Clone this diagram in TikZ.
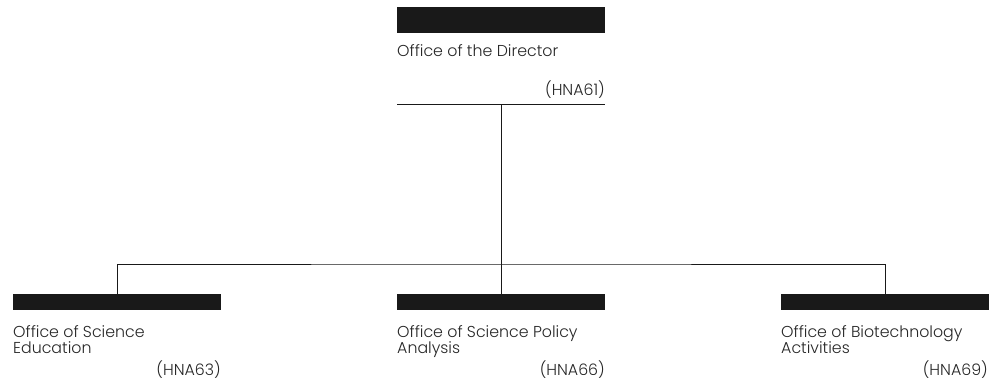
\documentclass[tikz,border=0pt]{standalone}
\usepackage{fontspec}
\setmainfont{Poppins}[UprightFont=* Light]
\usetikzlibrary{positioning}
\newcommand{\officefont}{\fontsize{15.8}{16}\selectfont\lineskiplimit=-10pt\relax}

\begin{document}
\begin{tikzpicture}[x=1pt, y=-1pt,
				topbar/.style={rectangle, fill=black!90, minimum width=208pt, minimum height=26pt, inner sep=0pt},
				bar/.style={rectangle, fill=black!90, minimum width=208pt, minimum height=16pt, inner sep=0pt},
				title/.style={rectangle, inner sep=0pt, align=left, font=\officefont, text=black!85},
				code/.style={rectangle, inner sep=0pt, font=\officefont, text=black!85},
				line/.style={draw=black!90, line width=1pt}
			]
			\useasboundingbox (0,0) rectangle (995,383);
			% top office
			\node[topbar] (director) at (501,20) {};
			\node[title, anchor=base west] (directorname) at (397,56) {Office of the Director};
			\node[code, anchor=base east] (directorcode) at (605,95) {(HNA61)};
			\coordinate (ruleleft) at (397,104);
			\coordinate (ruleright) at (605,104);
			\coordinate (rulemid) at (501,104);
			\coordinate (split) at (501,264);
			% lower offices
			\node[bar] (education) at (117,302) {};
			\node[bar] (policy) at (501,302) {};
			\node[bar] (biotech) at (885,302) {};
			\node[title, anchor=base west] (educationname) at (13,353) {Office of Science\\Education};
			\node[title, anchor=base west] (policyname) at (397,353) {Office of Science Policy\\Analysis};
			\node[title, anchor=base west] (biotechname) at (781,353) {Office of Biotechnology\\Activities};
			\node[code, anchor=base east] (educationcode) at (221,375) {(HNA63)};
			\node[code, anchor=base east] (policycode) at (605,375) {(HNA66)};
			\node[code, anchor=base east] (biotechcode) at (988,375) {(HNA69)};
			\begin{scope}[line]
			\draw (ruleleft) -- (ruleright);
			\draw (rulemid) -- (split);
			\draw (education.north) |- (split) -| (biotech.north);
			\draw (split) -- (policy.north);
			\end{scope}
\end{tikzpicture}
\end{document}
